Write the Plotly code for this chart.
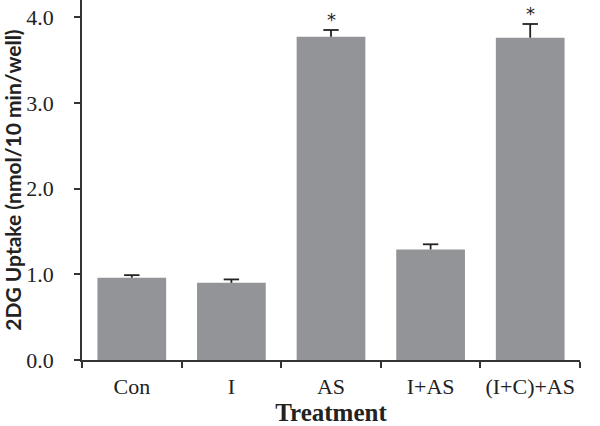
import plotly.graph_objects as go

# Data
treatments = ['Con', 'I', 'AS', 'I+AS', '(I+C)+AS']
uptake = [0.96, 0.90, 3.77, 1.29, 3.76]
uptake_err = [0.03, 0.04, 0.08, 0.06, 0.16]
significance = ['', '', '*', '', '*']

BAR_COLOR = '#929497'
INK = '#222222'
SERIF = 'Liberation Serif'

upper = [v + e for v, e in zip(uptake, uptake_err)]

fig = go.Figure()

fig.add_trace(go.Bar(
    x=treatments,
    y=uptake,
    width=0.69,
    marker=dict(color=BAR_COLOR, line=dict(width=0)),
    showlegend=False,
))

# one-sided error bars: stem from the bar top, cap only at the top
fig.add_trace(go.Scatter(
    x=treatments,
    y=upper,
    mode='markers',
    marker=dict(symbol='line-ew', size=11, line=dict(color=INK, width=1.8)),
    error_y=dict(type='data', array=[0] * len(uptake_err), arrayminus=uptake_err,
                 symmetric=False, color=INK, thickness=1.8, width=0),
    showlegend=False,
    hoverinfo='skip',
))

# significance stars above the error bars
for name, top, mark in zip(treatments, upper, significance):
    if mark:
        fig.add_annotation(x=name, y=top, text=mark, showarrow=False,
                           yanchor='middle', yshift=11,
                           font=dict(family='DejaVu Sans', size=18, color=INK))

fig.update_layout(
    width=600, height=426,
    template='plotly_white',
    plot_bgcolor='white',
    paper_bgcolor='white',
    margin=dict(l=82, r=20, t=0, b=66),
    xaxis=dict(
        type='category',
        automargin=False,
        showgrid=False,
        showline=True, linecolor='#333333', linewidth=1.5,
        ticks='outside', tickson='boundaries', ticklen=6,
        tickcolor='#333333', tickwidth=1.5,
        tickangle=0,
        ticklabelstandoff=6,
        tickfont=dict(family=SERIF, size=22, color=INK),
        title=dict(text='<b>Treatment</b>',
                   font=dict(family=SERIF, size=25, color=INK),
                   standoff=22),
        range=[-0.5, 4.5],
    ),
    yaxis=dict(
        automargin=False,
        range=[0, 4.2],
        tickvals=[0, 1, 2, 3, 4],
        ticktext=['0.0', '1.0', '2.0', '3.0', '4.0'],
        showgrid=False, zeroline=False,
        showline=True, linecolor='#333333', linewidth=1.5,
        ticks='outside', ticklen=6, tickcolor='#333333', tickwidth=1.5,
        ticklabelstandoff=16,
        tickfont=dict(family=SERIF, size=22, color=INK),
        title=dict(text='<b>2DG Uptake (nmol/10 min/well)</b>',
                   font=dict(family='Lato', size=21, color=INK),
                   standoff=4),
    ),
)

# the page's default body margin would push the 600x426 figure off the window
fig.write_html("out.html", config={'displayModeBar': False},
               post_script="document.body.style.margin='0px';")
